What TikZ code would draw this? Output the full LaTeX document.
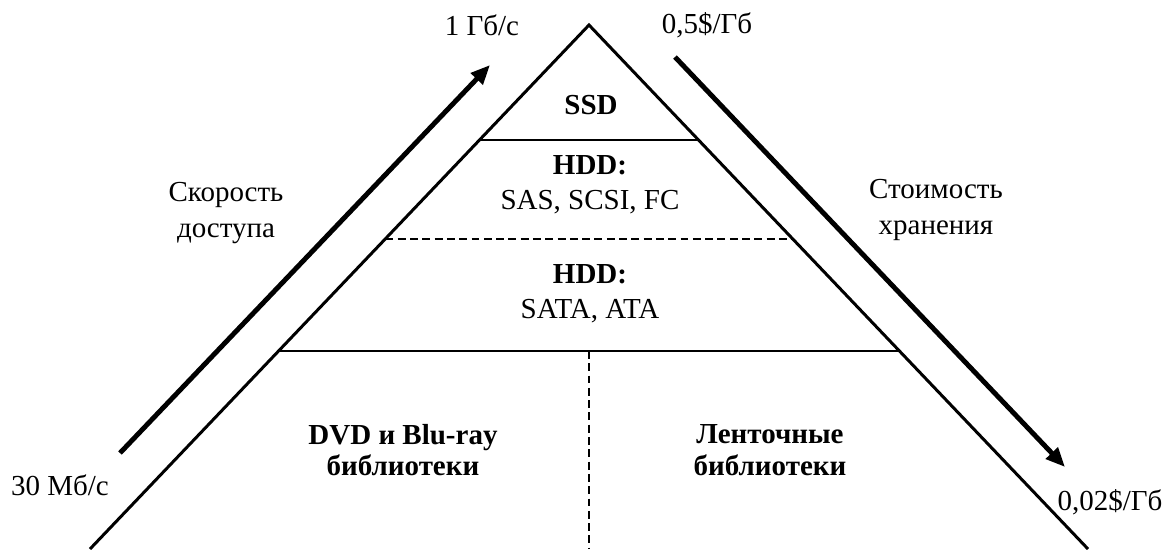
\documentclass[tikz,border=0pt]{standalone}
\usepackage{fontspec}
\setmainfont{Liberation Serif}
\usetikzlibrary{
  calc,
  arrows.meta,
}

\begin{document}
\begin{tikzpicture}[x=0.02cm,y=-0.02cm,
  txt/.style={font=\fontsize{16.5}{20}\selectfont,align=center},
  btxt/.style={font=\fontsize{16.5}{18}\selectfont\bfseries,align=center},
  side/.style={line width=1.7pt},
  tier/.style={line width=1.1pt},
  gap/.style={tier,dash pattern=on 4.5pt off 2.5pt},
  gauge/.style={line width=2.8pt,-{Triangle[length=11pt,width=9pt]}}]
\useasboundingbox (0,0) rectangle (1166,549);
\coordinate (apex) at (589,25);
\coordinate (bl) at (90,549);
\coordinate (br) at (1088,549);
\draw[side] (bl) -- (apex) -- (br);
\foreach \t/\n in {0.2195/ssd,0.408/hdd,0.622/lib} {
  \coordinate (\n L) at ($(apex)!\t!(bl)$);
  \coordinate (\n R) at ($(apex)!\t!(br)$);
}
\draw[tier] (ssdL) -- (ssdR);
\draw[gap] (hddL) -- (hddR);
\draw[tier] (libL) -- (libR);
\coordinate (mid) at ($(libL)!0.5!(libR)$);
\coordinate (base) at (mid |- bl);
\draw[gap] (mid) -- (base);
% levels
\node[btxt] (ssd) at (591,105) {SSD};
\node[txt] (hddfast) at (590,185) {\textbf{HDD:}\\SAS, SCSI, FC};
\node[txt] (hddslow) at (590,294) {\textbf{HDD:}\\SATA, ATA};
\node[btxt] (optic) at (403,450) {DVD и Blu-ray\\библиотеки};
\node[btxt] (tape) at (770,450) {Ленточные\\библиотеки};
% scales
\node[txt] (speed) at (226,213) {Скорость\\доступа};
\node[txt] (cost) at (936,210) {Стоимость\\хранения};
\node[txt] (speedlo) at (60,485) {30 Мб/с};
\node[txt] (speedhi) at (482,25) {1 Гб/с};
\node[txt] (costhi) at (707,25) {0,5\$/Гб};
\node[txt] (costlo) at (1110,502) {0,02\$/Гб};
\coordinate (s0) at (120,453);
\coordinate (s1) at (490,65);
\coordinate (c0) at (675,57);
\coordinate (c1) at (1065,467);
\draw[gauge] (s0) -- (s1);
\draw[gauge] (c0) -- (c1);
\end{tikzpicture}
\end{document}
